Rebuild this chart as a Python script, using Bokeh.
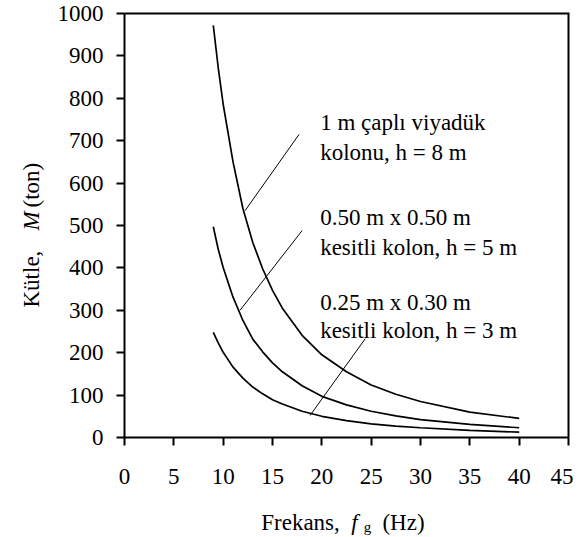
import math
from bokeh.plotting import figure
from bokeh.models import Range1d, FixedTicker, LinearAxis
from bokeh.core.properties import value
from bokeh.embed import file_html
from bokeh.resources import INLINE

# ---- data ----
freq = [9, 9.5, 10, 11, 12, 13, 14, 15, 16, 18, 20, 22.5, 25, 27.5, 30, 35, 40]
mass_viaduct = [972, 872, 786, 650, 540, 460, 398, 347, 305, 241, 195, 155, 124, 102, 85, 60, 45]
mass_col50 = [497, 444, 401, 331, 276, 232, 202, 176, 155, 122, 97, 77, 62, 51, 42, 31, 23]
mass_col25 = [248, 223, 201, 166, 140, 119, 103, 89, 79, 62, 50, 40, 32, 27, 23, 17, 12.5]

x_ticks = [0, 5, 10, 15, 20, 25, 30, 35, 40, 45]
y_ticks = [0, 100, 200, 300, 400, 500, 600, 700, 800, 900, 1000]

label_text = ["1 m çaplı viyadük", "kolonu, h = 8 m",
              "0.50 m x 0.50 m", "kesitli kolon, h = 5 m",
              "0.25 m x 0.30 m", "kesitli kolon, h = 3 m"]
label_x = [19.83] * 6
label_y = [743, 672, 519, 448, 319, 252]

leader_x0 = [12.22, 11.71, 18.81]
leader_y0 = [535, 300, 52]
leader_x1 = [17.7, 18.0, 24.4]
leader_y1 = [715, 488, 233]

x_title = ["Frekans,", "f", "g", "(Hz)"]
y_title = ["Kütle,", "M", "(ton)"]

FONT = "Liberation Serif"
FS = "23px"

# ---- layout (pixels) ----
W, H = 573, 535
FRAME_L, FRAME_R, FRAME_T, FRAME_B = 124, 568, 13, 437
XMIN, XMAX = x_ticks[0], x_ticks[-1]
YMIN, YMAX = y_ticks[0], y_ticks[-1]
sx = (FRAME_R - FRAME_L) / (XMAX - XMIN)
sy = (FRAME_B - FRAME_T) / (YMAX - YMIN)
x_range = Range1d(XMIN - FRAME_L / sx, XMAX + (W - FRAME_R) / sx)
y_range = Range1d(YMIN - (H - FRAME_B) / sy, YMAX + FRAME_T / sy)


def px_x(px):
    return XMIN + (px - FRAME_L) / sx


def px_y(py):
    return YMIN + (FRAME_B - py) / sy


p = figure(width=W, height=H, output_backend="svg", toolbar_location=None,
           x_range=x_range, y_range=y_range,
           x_axis_location=None, y_axis_location=None,
           min_border_left=0, min_border_right=0, min_border_top=0, min_border_bottom=0)
p.title.visible = False
p.outline_line_color = None
p.background_fill_color = "white"
p.border_fill_color = "white"
p.xgrid.visible = False
p.ygrid.visible = False

xaxis = LinearAxis(fixed_location=YMIN, bounds=(XMIN, XMAX), ticker=FixedTicker(ticks=x_ticks))
yaxis = LinearAxis(fixed_location=XMIN, bounds=(YMIN, YMAX), ticker=FixedTicker(ticks=y_ticks))
for ax in (xaxis, yaxis):
    ax.axis_line_width = 2
    ax.axis_line_color = "black"
    ax.major_tick_line_width = 2
    ax.major_tick_line_color = "black"
    ax.major_tick_in = 0
    ax.major_tick_out = 8
    ax.minor_tick_line_color = None
    ax.major_label_text_font = FONT
    ax.major_label_text_font_size = FS
    ax.major_label_text_color = "black"
xaxis.major_label_standoff = 23
yaxis.major_label_standoff = 13
p.add_layout(xaxis, "below")
p.add_layout(yaxis, "left")

# top and right edges of the plot box
p.line(x=[XMIN, XMAX, XMAX], y=[YMAX, YMAX, YMIN], line_color="black", line_width=2,
       line_join="miter")

for ys in (mass_viaduct, mass_col50, mass_col25):
    p.line(freq, ys, line_color="black", line_width=1.7)

p.segment(x0=leader_x0, y0=leader_y0, x1=leader_x1, y1=leader_y1,
          line_color="black", line_width=1)

p.text(x=label_x, y=label_y, text=label_text, text_font=value(FONT),
       text_font_size=value(FS), text_baseline="alphabetic", text_align="left",
       text_color="black")

# ---- x-axis title ----
xb = px_y(522)
p.text(x=[px_x(300)], y=[xb], text=[x_title[0]], text_font=value(FONT), text_font_size=value(FS),
       text_align="center", text_baseline="alphabetic", text_color="black")
p.text(x=[px_x(354)], y=[xb], text=[x_title[1]], text_font=value(FONT), text_font_size=value(FS),
       text_font_style="italic", text_align="center", text_baseline="alphabetic",
       text_color="black")
p.text(x=[px_x(367)], y=[px_y(526.5)], text=[x_title[2]], text_font=value(FONT),
       text_font_size=value("15px"), text_align="center", text_baseline="alphabetic",
       text_color="black")
p.text(x=[px_x(403)], y=[xb], text=[x_title[3]], text_font=value(FONT), text_font_size=value(FS),
       text_align="center", text_baseline="alphabetic", text_color="black")

# ---- y-axis title (rotated, reading upward) ----
yx = px_x(31)
p.text(x=[yx], y=[px_y(307)], text=[y_title[0]], angle=math.pi / 2,
       text_font=value(FONT), text_font_size=value(FS), text_align="left",
       text_baseline="alphabetic", text_color="black")
p.text(x=[yx], y=[px_y(230)], text=[y_title[1]], angle=math.pi / 2,
       text_font=value(FONT), text_font_size=value(FS), text_font_style="italic",
       text_align="left", text_baseline="alphabetic", text_color="black")
p.text(x=[yx], y=[px_y(207)], text=[y_title[2]], angle=math.pi / 2,
       text_font=value(FONT), text_font_size=value(FS), text_align="left",
       text_baseline="alphabetic", text_color="black")

open("out.html", "w").write(file_html(p, INLINE))
